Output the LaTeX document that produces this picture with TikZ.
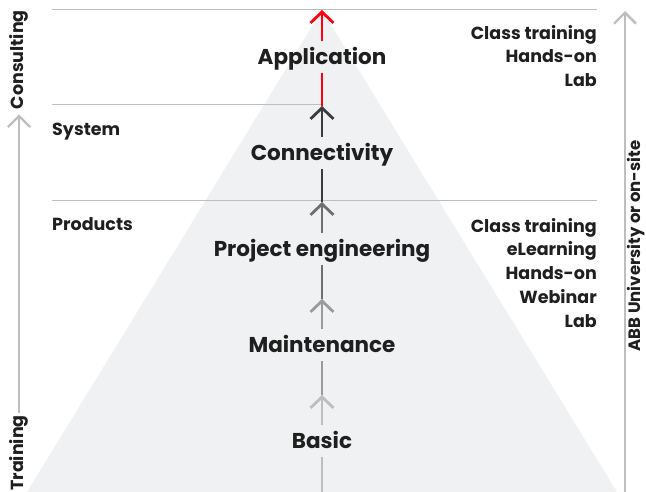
\documentclass[tikz,border=0pt]{standalone}
\usepackage{fontspec}
\setmainfont{Poppins}
\usepackage{tikz}
\usetikzlibrary{arrows.meta,positioning}
\definecolor{pyramid}{HTML}{F0F1F3}
\definecolor{rulegray}{HTML}{BDBEC0}
\definecolor{lvlA}{HTML}{BDBEC0}
\definecolor{lvlB}{HTML}{9A9B9D}
\definecolor{lvlC}{HTML}{6E6F71}
\definecolor{lvlD}{HTML}{3C3C3E}
\definecolor{abbred}{HTML}{FF000F}
\definecolor{ink}{HTML}{1F1F1F}

\begin{document}
\begin{tikzpicture}[x=1pt,y=-1pt,
  level/.style={font=\bfseries\fontsize{21.5}{24}\selectfont, text=ink, text height=15pt, text depth=0pt, minimum height=32pt, inner sep=0pt},
  info/.style={font=\bfseries\fontsize{17.5}{23.7}\selectfont, text=ink, inner sep=0pt},
  side/.style={font=\bfseries\fontsize{17.5}{20}\selectfont, text=ink, inner sep=0pt, rotate=90},
  rule/.style={draw=rulegray, line width=1pt},
  climb/.style={line width=2.8pt, -{Straight Barb[length=11pt,width=23pt,line width=2.8pt]}},
  plain/.style={line width=2.8pt},
  axis/.style={draw=rulegray, line width=2.4pt, -{Straight Barb[length=11pt,width=22pt,line width=2.4pt]}}]
\useasboundingbox (0,0) rectangle (646,492);
\fill[pyramid] (322,10) -- (617,492) -- (27,492) -- cycle;

\draw[rule] (52,10) -- (597,10);
\draw[rule] (52,105) -- (322,105);
\draw[rule] (52,201) -- (597,201);

\node[level] (basic) at (322,441) {Basic};
\node[level] (maint) at (322,345) {Maintenance};
\node[level] (proj)  at (322,249) {Project engineering};
\node[level] (conn)  at (322,153) {Connectivity};
\node[level] (appl)  at (322,57)  {Application};

\coordinate (base) at (322,492);
\coordinate (m1) at (322,395);
\coordinate (m2) at (322,299);
\coordinate (m3) at (322,202);
\coordinate (m4) at (322,106);
\coordinate (apex) at (322,10);

\draw[plain, lvlA] (base) -- (basic.south);
\draw[climb, lvlA] (basic.north) -- (m1);
\draw[plain, lvlB] (m1) -- (maint.south);
\draw[climb, lvlB] (maint.north) -- (m2);
\draw[plain, lvlC] (m2) -- (proj.south);
\draw[climb, lvlC] (proj.north) -- (m3);
\draw[plain, lvlD] (m3) -- (conn.south);
\draw[climb, lvlD] (conn.north) -- (m4);
\draw[plain, abbred] (m4) -- (appl.south);
\draw[climb, abbred] (appl.north) -- (apex);

\node[info, anchor=base west] (system) at (52,136) {System};
\node[info, anchor=base west] (products) at (52,231) {Products};
\node[info, align=right, anchor=north east] (classes) at (597,25) {Class training\\Hands-on\\Lab};
\node[info, align=right, anchor=north east] (offers) at (597,218) {Class training\\eLearning\\Hands-on\\Webinar\\Lab};

\node[side, anchor=west] (training) at (19,491) {Training};
\node[side, anchor=east] (consulting) at (19,10) {Consulting};
\draw[axis] ([yshift=2pt]training.east) -- ([yshift=-5pt]consulting.west);

\coordinate (ubase) at (625,492);
\coordinate (utop) at (625,11);
\draw[axis] (ubase) -- (utop);
\node[side, font=\bfseries\fontsize{16.5}{20}\selectfont] (univ) at (636.5,246) {ABB University or on-site};
\end{tikzpicture}
\end{document}
